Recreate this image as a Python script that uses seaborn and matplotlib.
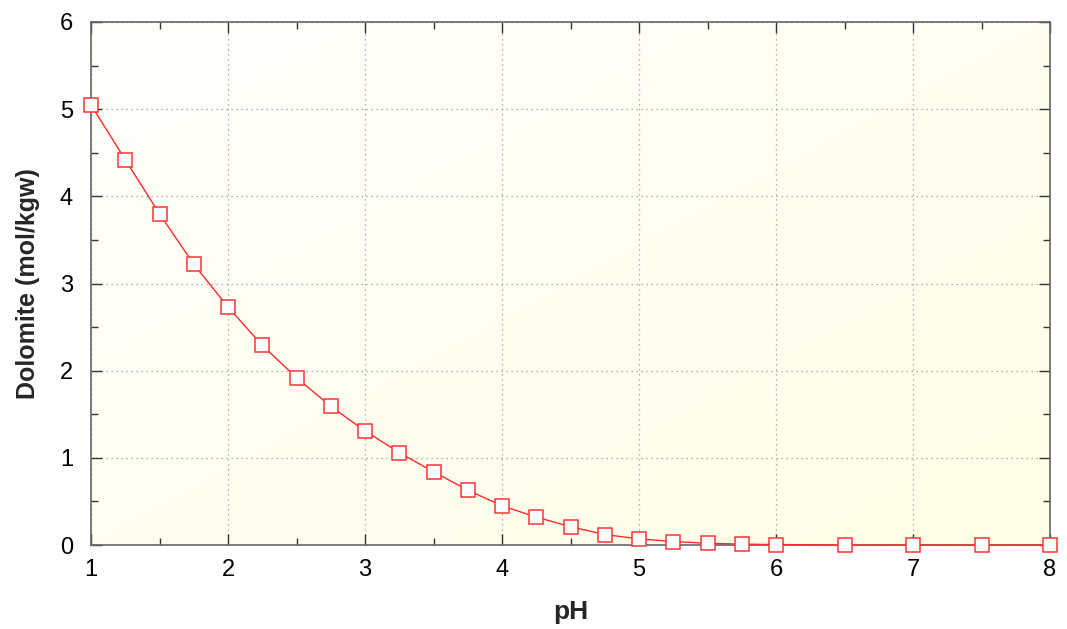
import numpy as np
import pandas as pd
import matplotlib
matplotlib.use("Agg")
import matplotlib.pyplot as plt
import seaborn as sns
from matplotlib.colors import LinearSegmentedColormap

ph = [1.0, 1.25, 1.5, 1.75, 2.0, 2.25, 2.5, 2.75, 3.0, 3.25, 3.5, 3.75, 4.0,
      4.25, 4.5, 4.75, 5.0, 5.25, 5.5, 5.75, 6.0, 6.5, 7.0, 7.5, 8.0]
dolomite = [5.05, 4.42, 3.80, 3.22, 2.73, 2.29, 1.92, 1.59, 1.31, 1.06, 0.84, 0.63, 0.45,
            0.32, 0.21, 0.12, 0.07, 0.04, 0.02, 0.01, 0.005, 0.0, 0.0, 0.0, 0.0]
xticks = [1, 2, 3, 4, 5, 6, 7, 8]
yticks = [0, 1, 2, 3, 4, 5, 6]

df = pd.DataFrame({"pH": ph, "Dolomite": dolomite})

sns.set_theme(style="white")
plt.rcParams['font.family'] = ['Liberation Sans', 'DejaVu Sans']

fig = plt.figure(figsize=(10.67, 6.29), dpi=100)
ax = fig.add_axes([91/1067, 1-545/629, (1050-91)/1067, (545-22)/629])

# gradient background: near white top-left to pale yellow bottom-right
gx, gy = np.meshgrid(np.linspace(0, 1, 200), np.linspace(0, 1, 200))
g = (gx + gy) / 2
cmap = LinearSegmentedColormap.from_list("bg", ["#fefefc", "#fffee6"])
ax.imshow(g, extent=[1, 8, 0, 6], cmap=cmap, aspect='auto', zorder=0, origin='upper')

sns.lineplot(data=df, x="pH", y="Dolomite", ax=ax, color="#ff2a2a", linewidth=1.0,
             marker="s", markersize=10, markerfacecolor="white",
             markeredgecolor="#ff3535", markeredgewidth=1.1, zorder=3, clip_on=False)

ax.set_xlim(1, 8)
ax.set_ylim(0, 6)
ax.set_xticks(xticks)
ax.set_yticks(yticks)
ax.set_xticks(np.arange(1.5, 8, 1), minor=True)
ax.set_yticks(np.arange(0.5, 6, 1), minor=True)
ax.tick_params(which='both', direction='in', top=True, right=True, bottom=True, left=True,
               colors='#333333', labelcolor='black', labelsize=17)
ax.tick_params(which='major', length=8, width=1)
ax.tick_params(which='minor', length=5, width=1)
ax.tick_params(axis='x', which='both', pad=10)
ax.tick_params(axis='y', which='both', pad=13)
ax.grid(True, which='major', linestyle=(0, (1, 3)), color='#999999', linewidth=0.9)
for s in ax.spines.values():
    s.set_color('#666666')
    s.set_linewidth(1.2)

ax.set_xlabel("pH", fontsize=19, fontweight='bold', labelpad=14)
ax.set_ylabel("Dolomite (mol/kgw)", fontsize=18, fontweight='bold', labelpad=14)

fig.savefig("out.png", dpi=100)
